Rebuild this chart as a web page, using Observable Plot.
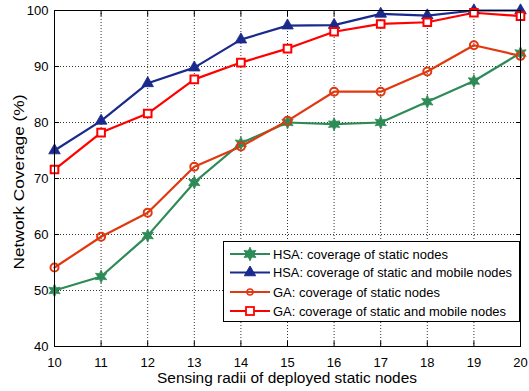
<!DOCTYPE html>
<html>
<head>
<meta charset="utf-8">
<script src="https://cdn.jsdelivr.net/npm/d3@7"></script>
<script src="https://cdn.jsdelivr.net/npm/@observablehq/plot@0.6"></script>
<style>
  html, body { margin: 0; padding: 0; background: #fff; }
  svg { font-family: "Liberation Sans", Arial, sans-serif; }
</style>
</head>
<body>
<div id="chart"></div>
<script>
const radii = [10, 11, 12, 13, 14, 15, 16, 17, 18, 19, 20];
const hsaStatic = [50.0, 52.5, 59.8, 69.3, 76.3, 80.0, 79.7, 80.0, 83.7, 87.4, 92.4];
const hsaMobile = [75.0, 80.3, 87.0, 89.8, 94.8, 97.3, 97.4, 99.4, 99.1, 100.0, 100.0];
const gaStatic = [54.1, 59.6, 63.9, 72.1, 75.7, 80.3, 85.5, 85.5, 89.1, 93.8, 91.9];
const gaMobile = [71.6, 78.2, 81.6, 87.7, 90.7, 93.2, 96.2, 97.6, 97.9, 99.6, 99.0];
const seriesNames = [
  "HSA: coverage of static nodes",
  "HSA: coverage of static and mobile nodes",
  "GA: coverage of static nodes",
  "GA: coverage of static and mobile nodes"
];
const xTicks = [10, 11, 12, 13, 14, 15, 16, 17, 18, 19, 20];
const yTicks = [40, 50, 60, 70, 80, 90, 100];
const colors = ["#2e8b57", "#1a2a8c", "#e0380f", "#ff0000"];

// six-pointed star (hexagram) symbol
const hexagram = {
  draw(context, size) {
    const r = Math.sqrt(size / 1.3);
    const ri = r * 0.5;
    for (let i = 0; i < 12; i++) {
      const a = Math.PI / 6 * i - Math.PI / 2;
      const rr = i % 2 === 0 ? r : ri;
      const x = rr * Math.cos(a), y = rr * Math.sin(a);
      if (i === 0) context.moveTo(x, y); else context.lineTo(x, y);
    }
    context.closePath();
  }
};

const allValues = [hsaStatic, hsaMobile, gaStatic, gaMobile];
const rows = [];
allValues.forEach((vals, s) => vals.forEach((v, i) => rows.push({series: s, x: radii[i], y: v})));
const bySeries = s => rows.filter(d => d.series === s);

const W = 529, H = 391;
const plot = Plot.plot({
  width: W,
  height: H,
  marginLeft: 54,
  marginRight: 9,
  marginTop: 10,
  marginBottom: 45,
  style: {fontFamily: "Liberation Sans, Arial, sans-serif", fontSize: "13px", color: "#000", background: "#fff"},
  x: {domain: [10, 20], ticks: xTicks, label: null},
  y: {domain: [40, 100], ticks: yTicks, label: null},
  marks: [
    Plot.gridX(xTicks, {stroke: "#000", strokeOpacity: 1, strokeWidth: 0.8, strokeDasharray: "1,2"}),
    Plot.gridY(yTicks, {stroke: "#000", strokeOpacity: 1, strokeWidth: 0.8, strokeDasharray: "1,2"}),
    Plot.axisX(xTicks, {anchor: "bottom", tickSize: -5, tickPadding: 16, fontSize: 13, label: null}),
    Plot.axisX(xTicks, {anchor: "top", tickSize: -5, tickFormat: () => "", label: null}),
    Plot.axisY(yTicks, {anchor: "left", tickSize: -5, tickPadding: 11, fontSize: 13, label: null}),
    Plot.axisY(yTicks, {anchor: "right", tickSize: -5, tickFormat: () => "", label: null}),
    // lines
    Plot.line(bySeries(0), {x: "x", y: "y", stroke: colors[0], strokeWidth: 2.2}),
    Plot.line(bySeries(1), {x: "x", y: "y", stroke: colors[1], strokeWidth: 2.2}),
    Plot.line(bySeries(2), {x: "x", y: "y", stroke: colors[2], strokeWidth: 2.2}),
    Plot.line(bySeries(3), {x: "x", y: "y", stroke: colors[3], strokeWidth: 2.2}),
    // markers
    Plot.dot(bySeries(0), {x: "x", y: "y", symbol: hexagram, r: 4.2, fill: colors[0], stroke: colors[0], strokeWidth: 0.8}),
    Plot.dot(bySeries(1), {x: "x", y: "y", symbol: "triangle", r: 4.3, fill: colors[1], stroke: colors[1], strokeWidth: 0.8}),
    Plot.dot(bySeries(2), {x: "x", y: "y", symbol: "circle", r: 4, fill: "none", stroke: colors[2], strokeWidth: 2}),
    Plot.dot(bySeries(3), {x: "x", y: "y", symbol: "square", r: 4.3, fill: "#fff", stroke: colors[3], strokeWidth: 2}),
    Plot.frame({stroke: "#000", strokeWidth: 1})
  ]
});

const svg = d3.select(plot);
// axis titles
svg.append("text")
  .attr("x", 287).attr("y", 383)
  .attr("text-anchor", "middle")
  .attr("font-size", 15.5)
  .attr("textLength", 260).attr("lengthAdjust", "spacingAndGlyphs")
  .attr("fill", "#000")
  .text("Sensing radii of deployed static nodes");
svg.append("text")
  .attr("transform", "translate(24,182) rotate(-90)")
  .attr("text-anchor", "middle")
  .attr("font-size", 15.5)
  .attr("textLength", 175).attr("lengthAdjust", "spacingAndGlyphs")
  .attr("fill", "#000")
  .text("Network Coverage (%)");

// legend
const lg = svg.append("g").attr("text-anchor", "start");
lg.append("rect").attr("x", 223.5).attr("y", 241.5).attr("width", 296).attr("height", 80)
  .attr("fill", "#fff").attr("stroke", "#000").attr("stroke-width", 1);
const rowY = [254, 272.5, 292, 311];
const textLen = [175, 239, 167, 233];
seriesNames.forEach((name, i) => {
  const y = rowY[i];
  lg.append("line").attr("x1", 230).attr("x2", 270).attr("y1", y).attr("y2", y)
    .attr("stroke", colors[i]).attr("stroke-width", 2.2);
  if (i === 0) {
    lg.append("path").attr("d", d3.symbol(hexagram, 60)()).attr("transform", `translate(250,${y})`)
      .attr("fill", colors[0]).attr("stroke", colors[0]);
  } else if (i === 1) {
    lg.append("path").attr("d", d3.symbol(d3.symbolTriangle, 55)()).attr("transform", `translate(250,${y})`)
      .attr("fill", colors[1]).attr("stroke", colors[1]);
  } else if (i === 2) {
    lg.append("circle").attr("cx", 250).attr("cy", y).attr("r", 3)
      .attr("fill", "none").attr("stroke", colors[2]).attr("stroke-width", 1.6);
  } else {
    lg.append("rect").attr("x", 246).attr("y", y - 4).attr("width", 8).attr("height", 8)
      .attr("fill", "#fff").attr("stroke", colors[3]).attr("stroke-width", 1.8);
  }
  lg.append("text").attr("x", 273).attr("y", y).attr("dy", "0.36em")
    .attr("text-anchor", "start")
    .attr("font-size", 13.5)
    .attr("textLength", textLen[i]).attr("lengthAdjust", "spacingAndGlyphs")
    .attr("fill", "#000").text(name);
});

document.getElementById("chart").appendChild(plot);
</script>
</body>
</html>
